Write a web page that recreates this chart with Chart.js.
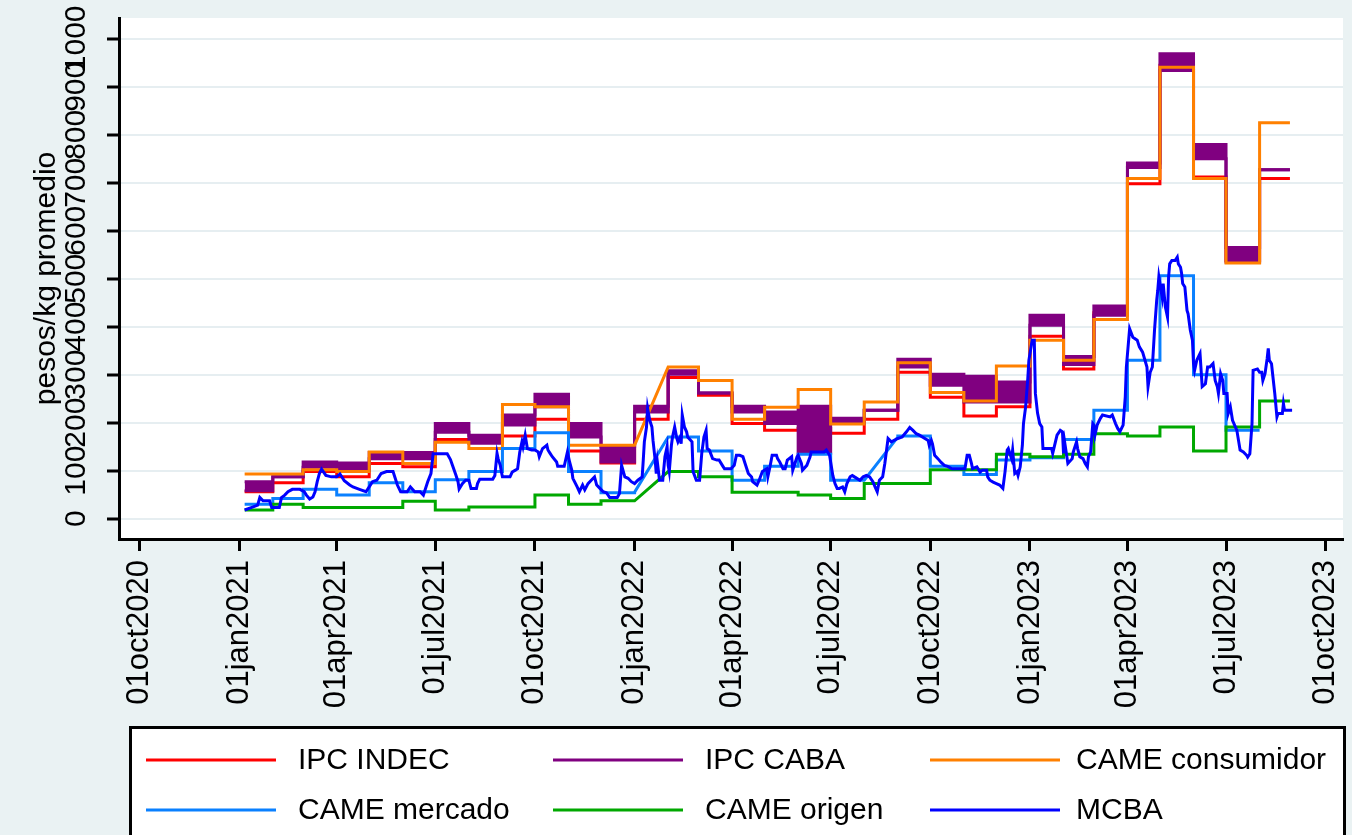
<!DOCTYPE html>
<html><head><meta charset="utf-8">
<script src="https://cdn.jsdelivr.net/npm/chart.js@4.4.1/dist/chart.umd.min.js"></script>
<style>html,body{margin:0;padding:0;background:#eaf2f3;overflow:hidden}</style>
</head><body>
<canvas id="c" width="1352" height="835"></canvas>
<script>
// ---------------- DATA ----------------
const months = ['2021-01','2021-02','2021-03','2021-04','2021-05','2021-06','2021-07','2021-08','2021-09','2021-10','2021-11','2021-12',
  '2022-01','2022-02','2022-03','2022-04','2022-05','2022-06','2022-07','2022-08','2022-09','2022-10','2022-11','2022-12',
  '2023-01','2023-02','2023-03','2023-04','2023-05','2023-06','2023-07','2023-08'];
const seriesStart = '2021-01-06';
const seriesEnd = '2023-08-29';

// monthly values (a pair [a,b] = value moving from a to b during the month)
const ipcIndec = [56,75,98,87,115,108,165,165,172,207,141,116,207,294,257,198,184,188,178,207,305,253,214,233,380,312,429,698,945,712,538,709];
const ipcCabaLow  = [58,87,107,100,125,125,180,157,195,233,170,118,222,301,262,222,198,136,198,226,316,278,243,243,403,321,424,732,934,750,535,727];
const ipcCabaHigh = [77,87,118,116,138,138,198,174,216,259,198,150,234,308,262,234,222,234,209,226,332,301,297,285,424,338,443,741,969,780,565,727];
const cameConsumidor = [93,93,102,98,139,115,159,146,238,233,153,153,[153,316],316,288,207,232,269,197,243,325,263,245,318,372,330,415,709,941,709,533,825];
const cameMercado = [30,42,61,49,75,56,81,98,146,179,98,54,[55,170],170,141,80,109,134,80,[80,170],172,109,92,122,127,165,226,330,506,300,184,null];
const cameOrigen = [18,30,23,23,23,36,18,24,24,49,30,37,[37,98],98,87,55,55,49,42,73,73,102,102,134,129,134,177,172,191,141,191,245];

const mcbaDates = [
'2021-01-06','2021-01-12','2021-01-18','2021-01-20','2021-01-23','2021-01-29','2021-01-31','2021-02-07','2021-02-09','2021-02-12','2021-02-15','2021-02-19','2021-02-26',
'2021-03-02','2021-03-04','2021-03-07','2021-03-10','2021-03-12','2021-03-14','2021-03-16','2021-03-18','2021-03-22','2021-03-27',
'2021-04-01','2021-04-04','2021-04-08','2021-04-13','2021-04-16','2021-04-22','2021-04-28',
'2021-05-01','2021-05-04','2021-05-08','2021-05-12','2021-05-17','2021-05-23','2021-05-27','2021-05-30',
'2021-06-05','2021-06-08','2021-06-12','2021-06-17','2021-06-20','2021-06-24','2021-06-27','2021-06-29',
'2021-07-12','2021-07-15','2021-07-17','2021-07-20','2021-07-22','2021-07-23','2021-07-26','2021-07-29',
'2021-08-01','2021-08-03','2021-08-08','2021-08-09','2021-08-11','2021-08-23','2021-08-25','2021-08-27','2021-08-28','2021-08-30','2021-08-31',
'2021-09-01','2021-09-08','2021-09-10','2021-09-13','2021-09-15','2021-09-17','2021-09-19','2021-09-20','2021-09-22','2021-09-24','2021-09-28',
'2021-10-01','2021-10-04','2021-10-05','2021-10-08','2021-10-12','2021-10-13','2021-10-15','2021-10-17','2021-10-21','2021-10-22','2021-10-28','2021-10-30','2021-10-31',
'2021-11-02','2021-11-04','2021-11-05','2021-11-09','2021-11-11','2021-11-14','2021-11-16','2021-11-19','2021-11-22','2021-11-25','2021-11-27','2021-11-30',
'2021-12-03','2021-12-06','2021-12-09','2021-12-16','2021-12-18','2021-12-20','2021-12-23','2021-12-26','2021-12-29',
'2022-01-01','2022-01-04','2022-01-08','2022-01-09','2022-01-10','2022-01-12','2022-01-13','2022-01-15','2022-01-17','2022-01-18','2022-01-20','2022-01-21','2022-01-22','2022-01-24','2022-01-27','2022-01-29','2022-01-31',
'2022-02-01','2022-02-02','2022-02-04','2022-02-05','2022-02-07','2022-02-09','2022-02-10','2022-02-12','2022-02-13','2022-02-14','2022-02-16','2022-02-18','2022-02-19','2022-02-23','2022-02-24','2022-02-27',
'2022-03-02','2022-03-04','2022-03-06','2022-03-08','2022-03-09','2022-03-11','2022-03-14','2022-03-18','2022-03-20','2022-03-23','2022-03-25','2022-03-31',
'2022-04-03','2022-04-05','2022-04-08','2022-04-11','2022-04-13','2022-04-16','2022-04-19','2022-04-20','2022-04-24','2022-04-26','2022-04-29',
'2022-05-03','2022-05-04','2022-05-06','2022-05-08','2022-05-12','2022-05-13','2022-05-15','2022-05-18','2022-05-20','2022-05-22','2022-05-26','2022-05-27','2022-05-31',
'2022-06-01','2022-06-04','2022-06-05','2022-06-09','2022-06-12','2022-06-13','2022-06-25','2022-06-27','2022-06-30',
'2022-07-03','2022-07-05','2022-07-07','2022-07-09','2022-07-12','2022-07-14','2022-07-16','2022-07-19','2022-07-21','2022-07-23','2022-07-28','2022-07-31',
'2022-08-03','2022-08-06','2022-08-09','2022-08-11','2022-08-13','2022-08-15','2022-08-18','2022-08-20','2022-08-23','2022-08-26',
'2022-09-01','2022-09-05','2022-09-09','2022-09-12','2022-09-15','2022-09-18','2022-09-21','2022-09-26','2022-09-29','2022-09-30',
'2022-10-02','2022-10-03','2022-10-05','2022-10-08','2022-10-11','2022-10-14','2022-10-17','2022-10-21',
'2022-11-02','2022-11-04','2022-11-06','2022-11-08','2022-11-09','2022-11-13','2022-11-16','2022-11-18','2022-11-22','2022-11-23','2022-11-25','2022-11-28',
'2022-12-01','2022-12-04','2022-12-07','2022-12-09','2022-12-11','2022-12-12','2022-12-14','2022-12-15','2022-12-16','2022-12-18','2022-12-20','2022-12-21','2022-12-23','2022-12-25','2022-12-26','2022-12-28','2022-12-30','2022-12-31',
'2023-01-03','2023-01-05','2023-01-06','2023-01-08','2023-01-10','2023-01-12','2023-01-13','2023-01-21','2023-01-22','2023-01-26','2023-01-29','2023-01-31',
'2023-02-01','2023-02-02','2023-02-05','2023-02-09','2023-02-10','2023-02-13','2023-02-14','2023-02-16','2023-02-19','2023-02-21','2023-02-23','2023-02-24','2023-02-26','2023-02-28',
'2023-03-01','2023-03-02','2023-03-04','2023-03-07','2023-03-09','2023-03-16','2023-03-18','2023-03-21','2023-03-23','2023-03-25','2023-03-28','2023-03-30','2023-03-31',
'2023-04-03','2023-04-06','2023-04-10','2023-04-12','2023-04-15','2023-04-19','2023-04-20','2023-04-22','2023-04-24','2023-04-26','2023-04-28','2023-04-29','2023-04-30',
'2023-05-03','2023-05-04','2023-05-06','2023-05-08','2023-05-09','2023-05-10','2023-05-12','2023-05-15','2023-05-17','2023-05-18','2023-05-20','2023-05-21','2023-05-22','2023-05-24','2023-05-26','2023-05-27','2023-05-29','2023-05-31',
'2023-06-01','2023-06-02','2023-06-04','2023-06-07','2023-06-09','2023-06-12','2023-06-14','2023-06-16','2023-06-19','2023-06-21','2023-06-23','2023-06-24','2023-06-26','2023-06-28','2023-06-29',
'2023-07-02','2023-07-03','2023-07-05','2023-07-07','2023-07-11','2023-07-14','2023-07-17','2023-07-20','2023-07-21','2023-07-23','2023-07-25','2023-07-26','2023-07-30',
'2023-08-01','2023-08-03','2023-08-04','2023-08-06','2023-08-08','2023-08-09','2023-08-10','2023-08-12','2023-08-13','2023-08-15','2023-08-17','2023-08-18','2023-08-22','2023-08-23','2023-08-24','2023-08-31'];
const mcbaValues = [
18,23,28,44,37,37,23,23,44,49,56,61,61,
56,49,41,45,56,77,94,103,90,87,
87,93,79,70,66,61,56,
66,77,80,94,98,98,70,56,
56,66,56,56,49,77,94,135,
135,123,110,91,77,62,73,80,
80,63,63,73,82,82,90,136,125,111,98,
87,87,97,101,104,139,160,150,174,146,143,
143,139,129,146,153,143,136,129,118,109,109,129,139,
118,101,84,66,56,70,60,73,80,87,70,63,
56,54,44,44,52,111,87,84,77,
73,80,87,122,160,191,230,205,191,163,122,94,118,80,80,129,150,
111,98,153,170,191,167,160,170,156,216,191,181,170,160,98,80,
80,136,170,184,146,143,125,122,122,111,104,104,
111,132,132,129,115,94,87,77,70,80,98,
104,87,108,132,132,125,118,104,104,122,129,101,129,
132,115,101,111,129,139,139,143,132,
90,73,63,63,66,56,73,87,90,87,80,87,
90,87,77,66,56,80,87,115,167,160,
167,170,181,190,184,177,174,167,163,153,
163,156,132,125,117,111,109,104,
104,132,132,115,104,108,97,101,101,87,80,76,
73,70,63,98,143,146,132,125,143,94,98,90,108,153,198,233,292,330,
372,372,261,220,198,191,146,146,136,174,184,181,
136,160,115,125,139,160,146,129,125,115,108,129,139,198,
195,174,195,209,216,212,216,198,188,181,195,254,316,
396,378,372,358,347,316,275,305,316,393,455,476,504,
462,490,441,420,504,531,538,538,545,531,524,511,490,483,434,427,393,372,
323,309,330,344,275,281,316,316,323,288,275,261,302,288,261,
261,219,233,205,184,143,139,132,128,135,198,309,312,
305,305,288,302,334,355,330,323,302,261,212,219,219,240,226,226];

const xTickDates = ['2020-10-01','2021-01-01','2021-04-01','2021-07-01','2021-10-01','2022-01-01','2022-04-01','2022-07-01','2022-10-01','2023-01-01','2023-04-01','2023-07-01','2023-10-01'];
const yTickValues = [0,100,200,300,400,500,600,700,800,900,1000];
const xRange = ['2020-09-12','2023-10-17'];
const yRange = [-42.5, 1043.5];
const yTitle = 'pesos/kg promedio';
const seriesNames = ['IPC INDEC','IPC CABA','CAME consumidor','CAME mercado','CAME origen','MCBA'];
const seriesColors = ['#ff0000','#800080','#ff8000','#0a80ff','#00a800','#0000ff'];

// ---------------- HELPERS ----------------
const BASE = Date.UTC(2020, 9, 1);
function dayNum(s) {
  const p = s.split('-').map(Number);
  return (Date.UTC(p[0], p[1] - 1, p[2] || 1) - BASE) / 86400000;
}
const MON = ['jan','feb','mar','apr','may','jun','jul','aug','sep','oct','nov','dec'];
function fmtDay(v) {
  const d = new Date(BASE + Math.round(v) * 86400000);
  return String(d.getUTCDate()).padStart(2, '0') + MON[d.getUTCMonth()] + d.getUTCFullYear();
}
function monthlyPoints(vals) {
  const pts = [];
  vals.forEach((v, i) => {
    if (v === null) { pts.push({x: dayNum(months[i]), y: null}); return; }
    const x0 = i === 0 ? dayNum(seriesStart) : dayNum(months[i]);
    const x1 = i === vals.length - 1 ? dayNum(seriesEnd) : dayNum(months[i + 1]);
    const ab = Array.isArray(v) ? v : [v, v];
    pts.push({x: x0, y: ab[0]}, {x: x1, y: ab[1]});
  });
  return pts;
}
const mcbaPoints = mcbaDates.map((d, i) => ({x: dayNum(d), y: mcbaValues[i]}));

const FONT = "'Liberation Sans', Arial, Helvetica, sans-serif";
const base = {pointRadius: 0, borderWidth: 3, tension: 0, fill: false, spanGaps: false};

const datasets = [
  Object.assign({}, base, {label: seriesNames[0], data: monthlyPoints(ipcIndec), borderColor: seriesColors[0], order: 7}),
  Object.assign({}, base, {label: seriesNames[1] + ' low', data: monthlyPoints(ipcCabaLow), borderColor: seriesColors[1], order: 6}),
  Object.assign({}, base, {label: seriesNames[1], data: monthlyPoints(ipcCabaHigh), borderColor: seriesColors[1], backgroundColor: seriesColors[1], fill: 1, order: 5}),
  Object.assign({}, base, {label: seriesNames[2], data: monthlyPoints(cameConsumidor), borderColor: seriesColors[2], order: 4}),
  Object.assign({}, base, {label: seriesNames[3], data: monthlyPoints(cameMercado), borderColor: seriesColors[3], order: 3}),
  Object.assign({}, base, {label: seriesNames[4], data: monthlyPoints(cameOrigen), borderColor: seriesColors[4], order: 2}),
  Object.assign({}, base, {label: seriesNames[5], data: mcbaPoints, borderColor: seriesColors[5], order: 1})
];

const bgPlugin = {
  id: 'bg',
  beforeDraw(chart) {
    const {ctx, chartArea: a} = chart;
    ctx.save();
    ctx.fillStyle = '#eaf2f3';
    ctx.fillRect(0, 0, chart.width, chart.height);
    ctx.fillStyle = '#ffffff';
    ctx.fillRect(a.left - 1, a.top, a.right - a.left + 1, a.bottom - a.top);
    ctx.restore();
  }
};

const legendPlugin = {
  id: 'stataLegend',
  afterDraw(chart) {
    const ctx = chart.ctx;
    ctx.save();
    ctx.fillStyle = '#ffffff';
    ctx.fillRect(131, 728, 1213, 120);
    ctx.strokeStyle = '#000';
    ctx.lineWidth = 3;
    ctx.strokeRect(130.5, 727.5, 1214, 130);
    const colX = [146, 553, 930];
    const textX = [298, 705, 1076];
    const rowY = [760, 810];
    ctx.font = '30px ' + FONT;
    ctx.textBaseline = 'middle';
    ctx.textAlign = 'left';
    seriesNames.forEach((name, i) => {
      const c = i % 3, r = Math.floor(i / 3);
      ctx.strokeStyle = seriesColors[i];
      ctx.lineWidth = 3;
      ctx.beginPath();
      ctx.moveTo(colX[c], rowY[r]);
      ctx.lineTo(colX[c] + 130, rowY[r]);
      ctx.stroke();
      ctx.fillStyle = '#000';
      ctx.fillText(name, textX[c], rowY[r] + 1);
    });
    ctx.restore();
  }
};

new Chart(document.getElementById('c'), {
  type: 'line',
  data: {datasets},
  plugins: [bgPlugin, legendPlugin],
  options: {
    responsive: false,
    animation: false,
    devicePixelRatio: 1,
    layout: {padding: {left: 0, top: 18, right: 9, bottom: 111}},
    plugins: {legend: {display: false}, tooltip: {enabled: false}},
    scales: {
      x: {
        type: 'linear',
        min: dayNum(xRange[0]),
        max: dayNum(xRange[1]),
        afterBuildTicks(scale) { scale.ticks = xTickDates.map(d => ({value: dayNum(d)})); },
        afterFit(scale) { scale.height = 185; scale.paddingLeft = 0; scale.paddingRight = 0; },
        grid: {drawOnChartArea: false, drawTicks: true, tickLength: 12, tickColor: '#000', tickWidth: 3},
        border: {display: true, color: '#000', width: 3},
        ticks: {autoSkip: false, minRotation: 90, maxRotation: 90, padding: 9, color: '#000',
          font: {size: 31, family: FONT}, callback: v => fmtDay(v)}
      },
      y: {
        type: 'linear',
        min: yRange[0],
        max: yRange[1],
        afterBuildTicks(scale) { scale.ticks = yTickValues.map(v => ({value: v})); },
        afterFit(scale) { scale.width = 119; scale.paddingTop = 0; scale.paddingBottom = 0; },
        grid: {color: '#e6eef1', lineWidth: 2, drawTicks: true, tickLength: 12, tickColor: '#000', tickWidth: 3},
        border: {display: true, color: '#000', width: 3},
        ticks: {autoSkip: false, minRotation: 90, maxRotation: 90, crossAlign: 'center', padding: -3, color: '#000',
          font: {size: 30, family: FONT}, callback: v => String(v)},
        title: {display: true, text: yTitle, color: '#000', font: {size: 30, family: FONT}, padding: {top: 29, bottom: 0}}
      }
    }
  }
});
</script>
</body></html>
